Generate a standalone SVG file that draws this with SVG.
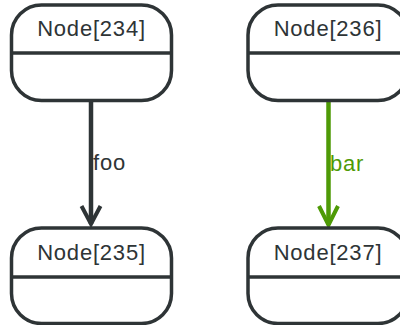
<svg xmlns="http://www.w3.org/2000/svg" width="400" height="325" viewBox="0 0 400 325">
  <style>
    .box { fill: #ffffff; stroke: #2e3436; stroke-width: 3.5; }
    .div { stroke: #2e3436; stroke-width: 3.5; }
    .title { font-family: "Liberation Sans", Arial, sans-serif; font-size: 22px; letter-spacing: 0.8px; fill: #2e3436; text-anchor: middle; }
    .lbl { font-family: "Liberation Sans", Arial, sans-serif; font-size: 22px; letter-spacing: 0.8px; }
    .edge { fill: none; stroke-width: 4.5; }
  </style>
  <defs>
    <marker id="arrDark" markerUnits="userSpaceOnUse" markerWidth="30" markerHeight="30" viewBox="-25 -15 30 30" refX="0" refY="0" orient="auto">
      <path d="M-18,-9.5 L0,0 L-18,9.5" fill="none" stroke="#2e3436" stroke-width="4" stroke-linejoin="miter"/>
    </marker>
    <marker id="arrGreen" markerUnits="userSpaceOnUse" markerWidth="30" markerHeight="30" viewBox="-25 -15 30 30" refX="0" refY="0" orient="auto">
      <path d="M-19,-9.5 L0,0 L-19,9.5" fill="none" stroke="#4e9a06" stroke-width="4" stroke-linejoin="miter"/>
    </marker>
  </defs>
  <g id="connectors">
    <g id="edge-foo">
      <path class="edge" d="M91,101 L91,224" stroke="#2e3436" marker-end="url(#arrDark)"/>
      <text class="lbl" x="93" y="170" fill="#2e3436">foo</text>
    </g>
    <g id="edge-bar">
      <path class="edge" d="M328.5,101 L328.5,225" stroke="#4e9a06" marker-end="url(#arrGreen)"/>
      <text class="lbl" x="330" y="171" fill="#4e9a06">bar</text>
    </g>
  </g>
  <g id="node234">
    <rect class="box" x="11.5" y="5" width="160" height="95.5" rx="30" ry="30"/>
    <line class="div" x1="11.5" y1="53" x2="171.5" y2="53"/>
    <text class="title" x="91.5" y="35.5">Node[234]</text>
  </g>
  <g id="node236">
    <rect class="box" x="248" y="5" width="160" height="95.5" rx="30" ry="30"/>
    <line class="div" x1="248" y1="53" x2="408" y2="53"/>
    <text class="title" x="328" y="35.5">Node[236]</text>
  </g>
  <g id="node235">
    <rect class="box" x="11.5" y="228" width="160" height="95.5" rx="30" ry="30"/>
    <line class="div" x1="11.5" y1="277" x2="171.5" y2="277"/>
    <text class="title" x="91.5" y="259.5">Node[235]</text>
  </g>
  <g id="node237">
    <rect class="box" x="248" y="228" width="160" height="95.5" rx="30" ry="30"/>
    <line class="div" x1="248" y1="277" x2="408" y2="277"/>
    <text class="title" x="328" y="259.5">Node[237]</text>
  </g>
</svg>
